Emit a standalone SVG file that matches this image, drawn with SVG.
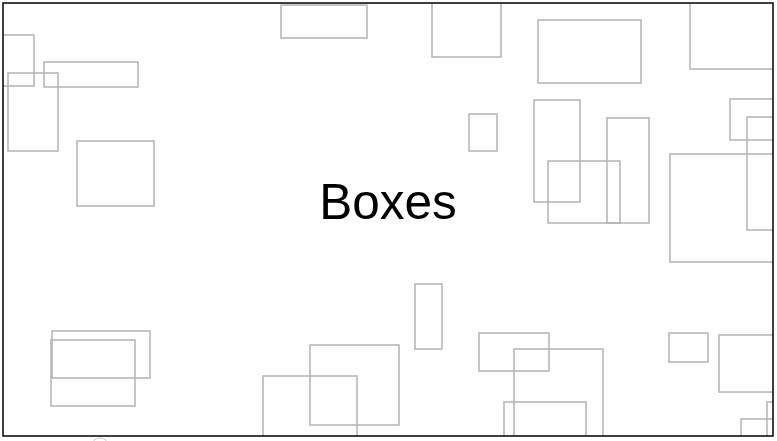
<svg xmlns="http://www.w3.org/2000/svg" width="777" height="441" viewBox="0 0 777 441">
<style>
.b{fill:none;stroke:#b3b3b3;stroke-width:1.5}
.t{font-family:"Liberation Sans",Arial,sans-serif;font-size:49.5px;fill:#000}
</style>
<defs><clipPath id="c"><rect x="3" y="3" width="770" height="433"/></clipPath></defs>
<rect width="777" height="441" fill="#fff"/>
<circle cx="100" cy="447" r="9" fill="none" stroke="#cccccc" stroke-width="1"/>
<g id="boxes" clip-path="url(#c)">
<rect class="b" x="-10" y="35" width="44" height="51"/>
<rect class="b" x="44" y="62" width="94" height="25"/>
<rect class="b" x="8" y="73" width="50" height="78"/>
<rect class="b" x="77" y="141" width="77" height="65"/>
<rect class="b" x="281" y="5" width="86" height="33"/>
<rect class="b" x="432" y="-10" width="69" height="67"/>
<rect class="b" x="538" y="20" width="103" height="63"/>
<rect class="b" x="690" y="-10" width="100" height="79"/>
<rect class="b" x="730" y="99" width="60" height="41"/>
<rect class="b" x="747" y="117" width="40" height="113"/>
<rect class="b" x="469" y="114" width="28" height="37"/>
<rect class="b" x="534" y="100" width="46" height="102"/>
<rect class="b" x="548" y="161" width="72" height="62"/>
<rect class="b" x="607" y="118" width="42" height="105"/>
<rect class="b" x="670" y="154" width="110" height="108"/>
<rect class="b" x="415" y="284" width="27" height="65"/>
<rect class="b" x="669" y="333" width="39" height="29"/>
<rect class="b" x="719" y="335" width="70" height="57"/>
<rect class="b" x="741" y="419" width="50" height="40"/>
<rect class="b" x="767" y="402" width="30" height="50"/>
<rect class="b" x="52" y="331" width="98" height="47"/>
<rect class="b" x="51" y="340" width="84" height="66"/>
<rect class="b" x="310" y="345" width="89" height="80"/>
<rect class="b" x="263" y="376" width="94" height="80"/>
<rect class="b" x="479" y="333" width="70" height="38"/>
<rect class="b" x="514" y="349" width="89" height="100"/>
<rect class="b" x="504" y="402" width="82" height="60"/>
</g>
<rect id="frame" x="3" y="3" width="770" height="433" fill="none" stroke="#000" stroke-width="1.5"/>
<g id="title"><text class="t" x="388" y="219" text-anchor="middle">Boxes</text></g>
</svg>
